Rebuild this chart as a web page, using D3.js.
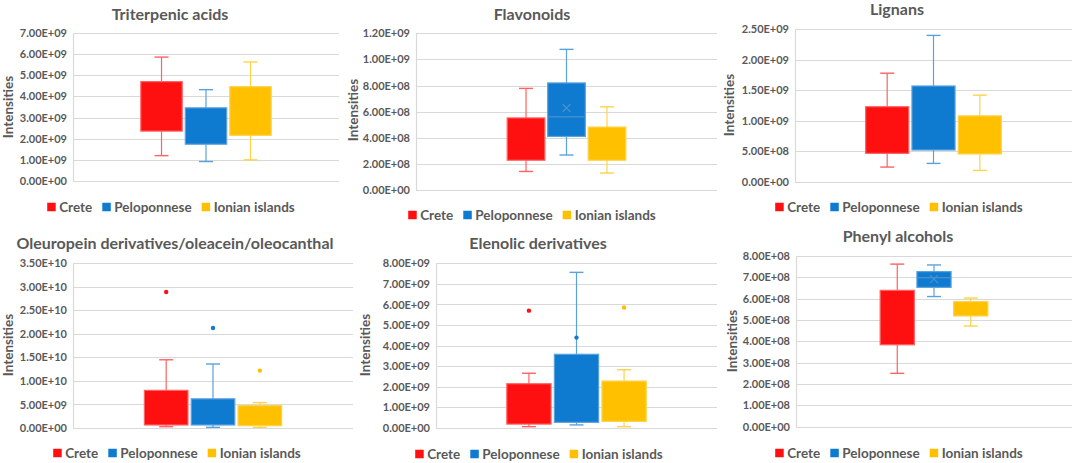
<!DOCTYPE html>
<html>
<head>
<meta charset="utf-8">
<script src="https://cdn.jsdelivr.net/npm/d3@7"></script>
<style>
  body { margin: 0; background: #fff; }
  text { font-family: Lato, "Open Sans", sans-serif; fill: #595959; }
  .tick-label { font-size: 11px; font-weight: bold; }
  .title { font-size: 16px; font-weight: bold; }
  .ylab { font-size: 13.5px; font-weight: bold; }
  .legend text { font-size: 13.5px; font-weight: bold; }
</style>
</head>
<body>
<script>
// chart data
const panelTitles = ["Triterpenic acids", "Flavonoids", "Lignans",
  "Oleuropein derivatives/oleacein/oleocanthal", "Elenolic derivatives", "Phenyl alcohols"];
const regions = ["Crete", "Peloponnese", "Ionian islands"];
const regionColors = ["#ff1010", "#0f7bd0", "#ffc000"];
const whiskerColors = ["#ff6262", "#5aa2de", "#ffd24a"];

const yMax = [7e9, 1.2e9, 2.5e9, 3.5e10, 8e9, 8e8];
const yStep = [1e9, 2e8, 5e8, 5e9, 1e9, 1e8];

// per panel, per region: [Crete, Peloponnese, Ionian islands]
const whiskerLow = [
  [1.2e9, 0.92e9, 1.0e9],
  [1.42e8, 2.68e8, 1.3e8],
  [2.4e8, 3.0e8, 1.85e8],
  [2.8e8, 1.4e8, 1.4e8],
  [6.5e7, 1.5e8, 6.5e7],
  [2.5e8, 6.1e8, 4.72e8]
];
const q1 = [
  [2.36e9, 1.74e9, 2.16e9],
  [2.28e8, 4.1e8, 2.28e8],
  [4.65e8, 5.2e8, 4.55e8],
  [6.4e8, 6.4e8, 5.0e8],
  [1.9e8, 2.75e8, 3.2e8],
  [3.84e8, 6.53e8, 5.19e8]
];
const q3 = [
  [4.7e9, 3.46e9, 4.46e9],
  [5.52e8, 8.2e8, 4.82e8],
  [1.23e9, 1.57e9, 1.08e9],
  [8.0e9, 6.2e9, 4.75e9],
  [2.15e9, 3.58e9, 2.28e9],
  [6.39e8, 7.27e8, 5.86e8]
];
const whiskerHigh = [
  [5.86e9, 4.32e9, 5.63e9],
  [7.78e8, 1.077e9, 6.37e8],
  [1.78e9, 2.4e9, 1.42e9],
  [1.45e10, 1.36e10, 5.4e9],
  [2.66e9, 7.56e9, 2.83e9],
  [7.62e8, 7.58e8, 6.03e8]
];
// median / mean marks that show through the filled boxes
const medianShown = [
  [null, null, null], [null, 5.6e8, null], [null, null, null],
  [null, null, null], [null, null, null], [null, 6.98e8, null]
];
const meanShown = [
  [null, null, null], [null, 6.28e8, null], [null, null, null],
  [null, null, null], [null, null, null], [null, 6.92e8, null]
];
const outliers = [
  [[], [], []], [[], [], []], [[], [], []],
  [[2.89e10], [2.125e10], [1.22e10]],
  [[5.7e9], [4.39e9], [5.85e9]],
  [[], [], []]
];

// layout (pixel positions of each panel)
const layout = [
  {x0: 73,  x1: 339,  top: 33,    bottom: 181,   tx: 170, ty: 13,  lx: 171, ly: 207, yx: 8,   yy: 107, frac: 0.49},
  {x0: 416, x1: 717,  top: 33.3,  bottom: 190,   tx: 532, ty: 13,  lx: 532, ly: 215, yx: 353, yy: 110, frac: 0.394},
  {x0: 795, x1: 1072, top: 29.3,  bottom: 181.7, tx: 897, ty: 8,   lx: 899, ly: 207, yx: 729, yy: 105, frac: 0.49},
  {x0: 73,  x1: 353,  top: 263.3, bottom: 428,   tx: 175, ty: 242, lx: 177, ly: 453, yx: 8,   yy: 345, frac: 0.49},
  {x0: 436, x1: 717,  top: 263.3, bottom: 428,   tx: 538, ty: 242, lx: 539, ly: 454, yx: 365, yy: 345, frac: 0.496},
  {x0: 796, x1: 1072, top: 256,   bottom: 426.7, tx: 898, ty: 235, lx: 899, ly: 453, yx: 732, yy: 341, frac: 0.39}
];

function sci(v) {
  if (v === 0) return "0.00E+00";
  let e = Math.floor(Math.log10(v) + 1e-9);
  let m = v / Math.pow(10, e);
  return m.toFixed(2) + "E" + (e < 0 ? "-" : "+") + String(Math.abs(e)).padStart(2, "0");
}

const svg = d3.select("body").append("svg")
  .attr("width", 1074)
  .attr("height", 463);

for (let p = 0; p < panelTitles.length; p++) {
  let L = layout[p];
  let g = svg.append("g");

  let y = d3.scaleLinear().domain([0, yMax[p]]).range([L.bottom, L.top]);
  let ticks = d3.range(0, yMax[p] + yStep[p] / 2, yStep[p]);

  // gridlines
  g.selectAll("line.grid").data(ticks).enter().append("line")
    .attr("x1", L.x0).attr("x2", L.x1)
    .attr("y1", d => Math.round(y(d)) + 0.5).attr("y2", d => Math.round(y(d)) + 0.5)
    .attr("stroke", "#d9d9d9").attr("stroke-width", 1.2);

  // y axis with tick labels
  let axis = d3.axisLeft(y).tickValues(ticks).tickFormat(sci).tickSize(0).tickPadding(6);
  let ag = g.append("g").attr("transform", `translate(${L.x0},0)`).call(axis);
  ag.select(".domain").attr("stroke", "#d9d9d9").attr("stroke-width", 1.2);
  ag.selectAll("text").attr("class", "tick-label").style("font-family", null).attr("fill", "#595959");

  // title
  g.append("text").attr("class", "title")
    .attr("x", L.tx).attr("y", L.ty)
    .attr("text-anchor", "middle").attr("dominant-baseline", "central")
    .text(panelTitles[p]);

  // y axis label
  g.append("text").attr("class", "ylab")
    .attr("transform", `translate(${L.yx},${L.yy}) rotate(-90)`)
    .attr("text-anchor", "middle").attr("dominant-baseline", "central")
    .text("Intensities");

  // boxes
  let cx = (L.x0 + L.x1) / 2;
  let span = (L.x1 - L.x0) * L.frac;
  let x = d3.scaleBand().domain(regions)
    .range([cx - span / 2, cx + span / 2])
    .paddingInner(0.07);
  let bw = x.bandwidth();

  regions.forEach(function(r, i) {
    let bx = x(r), mid = bx + bw / 2;
    let col = regionColors[i], wc = whiskerColors[i];
    let bg = g.append("g");
    // whiskers
    bg.append("line").attr("x1", mid).attr("x2", mid)
      .attr("y1", y(whiskerHigh[p][i])).attr("y2", y(q3[p][i]))
      .attr("stroke", wc).attr("stroke-width", 1.2);
    bg.append("line").attr("x1", mid).attr("x2", mid)
      .attr("y1", y(q1[p][i])).attr("y2", y(whiskerLow[p][i]))
      .attr("stroke", wc).attr("stroke-width", 1.2);
    [whiskerHigh[p][i], whiskerLow[p][i]].forEach(function(v) {
      bg.append("line").attr("x1", mid - 7).attr("x2", mid + 7)
        .attr("y1", y(v)).attr("y2", y(v))
        .attr("stroke", wc).attr("stroke-width", 1.4);
    });
    // box
    bg.append("rect")
      .attr("x", bx).attr("width", bw)
      .attr("y", y(q3[p][i])).attr("height", y(q1[p][i]) - y(q3[p][i]))
      .attr("fill", col).attr("stroke", wc).attr("stroke-width", 1.2);
    if (medianShown[p][i] != null) {
      bg.append("line").attr("x1", bx + 1).attr("x2", bx + bw - 1)
        .attr("y1", y(medianShown[p][i])).attr("y2", y(medianShown[p][i]))
        .attr("stroke", "#5b96c9").attr("stroke-width", 1);
    }
    if (meanShown[p][i] != null) {
      let my = y(meanShown[p][i]);
      bg.append("path")
        .attr("d", `M${mid - 4},${my - 4}L${mid + 4},${my + 4}M${mid - 4},${my + 4}L${mid + 4},${my - 4}`)
        .attr("stroke", "#4d90cb").attr("stroke-width", 1.1).attr("fill", "none");
    }
    bg.selectAll("circle").data(outliers[p][i]).enter().append("circle")
      .attr("cx", mid).attr("cy", d => y(d)).attr("r", 2.2)
      .attr("fill", col);
  });

  // legend
  let lg = g.append("g").attr("class", "legend");
  let items = regions.map(function(r, i) {
    let it = lg.append("g");
    it.append("rect").attr("width", 8.5).attr("height", 8.5).attr("y", -4.25).attr("fill", regionColors[i]);
    let t = it.append("text").attr("x", 12).attr("dominant-baseline", "central").text(r);
    return {g: it, w: 12 + t.node().getComputedTextLength()};
  });
  let gap = 10;
  let total = d3.sum(items, d => d.w) + gap * (items.length - 1);
  let pos = L.lx - total / 2;
  items.forEach(function(it) {
    it.g.attr("transform", `translate(${pos},${L.ly})`);
    pos += it.w + gap;
  });
}
</script>
</body>
</html>
